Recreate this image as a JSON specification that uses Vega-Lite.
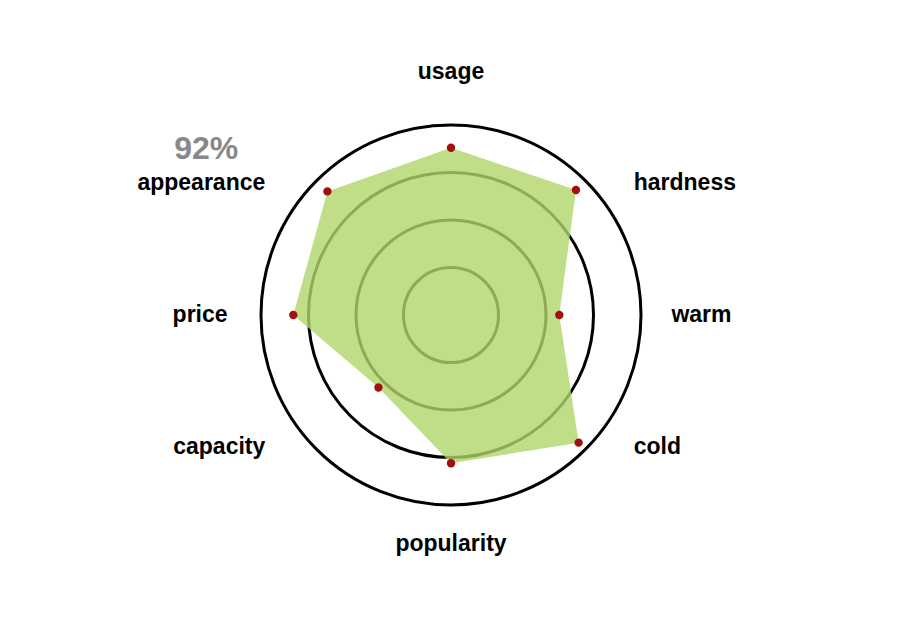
{
  "$schema": "https://vega.github.io/schema/vega-lite/v6.json",
  "width": 380,
  "height": 380,
  "autosize": {"type": "none"},
  "padding": {"left": 261, "top": 125, "right": 260, "bottom": 133},
  "background": "white",
  "config": {"view": {"stroke": null}},
  "layer": [
    {
      "data": {"values": [{"level": 25}, {"level": 50}, {"level": 75}, {"level": 100}]},
      "mark": {"type": "arc", "filled": false, "stroke": "black", "strokeWidth": 3, "theta": 0, "theta2": 6.2832},
      "encoding": {
        "radius": {"field": "level", "type": "quantitative", "stack": null, "scale": {"type": "linear", "domain": [0, 100], "range": [0, 190], "zero": true}}
      }
    },
    {
      "data": {
        "values": [
          {"key": "usage", "value": 88},
          {"key": "hardness", "value": 93},
          {"key": "warm", "value": 57},
          {"key": "cold", "value": 95},
          {"key": "popularity", "value": 78},
          {"key": "capacity", "value": 54},
          {"key": "price", "value": 83},
          {"key": "appearance", "value": 92}
        ]
      },
      "transform": [
        {"window": [{"op": "row_number", "as": "idx"}]},
        {"calculate": "(datum.idx - 1) * PI / 4", "as": "angle"},
        {"calculate": "datum.value * sin(datum.angle)", "as": "px"},
        {"calculate": "datum.value * cos(datum.angle)", "as": "py"},
        {"calculate": "datum.angle + 0.192 * sin(2 * datum.angle)", "as": "la"},
        {"calculate": "116 * sin(datum.la)", "as": "lx"},
        {"calculate": "124 * cos(datum.la)", "as": "ly"},
        {"calculate": "sin(datum.angle)", "as": "side"}
      ],
      "encoding": {
        "x": {"field": "px", "type": "quantitative", "scale": {"domain": [-100, 100], "nice": false, "zero": false}, "axis": null},
        "y": {"field": "py", "type": "quantitative", "scale": {"domain": [-100, 100], "nice": false, "zero": false}, "axis": null}
      },
      "layer": [
        {
          "mark": {"type": "line", "interpolate": "linear-closed", "fill": "#b0d46a", "fillOpacity": 0.8, "strokeOpacity": 0},
          "encoding": {"order": {"field": "idx", "type": "quantitative"}}
        },
        {
          "mark": {"type": "point", "filled": true, "color": "#a30e0e", "size": 70, "opacity": 1}
        },
        {
          "transform": [{"filter": "datum.side > 0.1"}],
          "mark": {"type": "text", "align": "left", "baseline": "middle", "font": "Liberation Sans", "fontWeight": "bold", "fontSize": 23, "color": "black"},
          "encoding": {
            "x": {"field": "lx", "type": "quantitative"},
            "y": {"field": "ly", "type": "quantitative"},
            "text": {"field": "key"}
          }
        },
        {
          "transform": [{"filter": "datum.side < -0.1"}],
          "mark": {"type": "text", "align": "right", "baseline": "middle", "dx": -3, "font": "Liberation Sans", "fontWeight": "bold", "fontSize": 23, "color": "black"},
          "encoding": {
            "x": {"field": "lx", "type": "quantitative"},
            "y": {"field": "ly", "type": "quantitative"},
            "text": {"field": "key"}
          }
        },
        {
          "transform": [{"filter": "abs(datum.side) <= 0.1"}],
          "mark": {"type": "text", "align": "center", "baseline": "middle", "dy": -7, "font": "Liberation Sans", "fontWeight": "bold", "fontSize": 23, "color": "black"},
          "encoding": {
            "x": {"field": "lx", "type": "quantitative"},
            "y": {"field": "ly", "type": "quantitative"},
            "text": {"field": "key"}
          }
        },
        {
          "transform": [
            {"filter": "datum.key == 'appearance'"},
            {"calculate": "datum.value + '%'", "as": "pct"}
          ],
          "mark": {"type": "text", "align": "center", "baseline": "middle", "dx": -62, "dy": -34, "font": "Liberation Sans", "fontWeight": "bold", "fontSize": 32, "color": "#888888"},
          "encoding": {
            "x": {"field": "lx", "type": "quantitative"},
            "y": {"field": "ly", "type": "quantitative"},
            "text": {"field": "pct"}
          }
        }
      ]
    }
  ]
}
